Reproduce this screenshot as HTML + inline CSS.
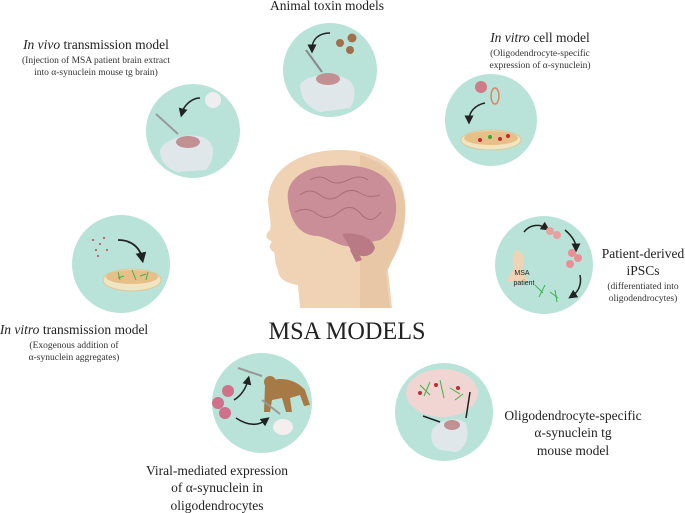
<!DOCTYPE html>
<html><head><style>
body{margin:0;background:#fff}
svg{display:block}
text{font-family:"Liberation Serif",serif;fill:#222}
.t{font-size:13.5px}
.s{font-size:9.5px;fill:#333}
.c{fill:#b9e3d8}
</style></head><body>
<svg width="685" height="513" viewBox="0 0 685 513" xmlns="http://www.w3.org/2000/svg">
<defs>
<marker id="ah" markerWidth="6" markerHeight="6" refX="3" refY="3" orient="auto"><path d="M0,0 L6,3 L0,6 z" fill="#222"/></marker>
</defs>
<!-- circles -->
<circle class="c" cx="330" cy="70" r="47"/>
<circle class="c" cx="193" cy="131" r="47"/>
<circle class="c" cx="491" cy="120" r="46"/>
<circle class="c" cx="121" cy="264" r="49"/>
<circle class="c" cx="544" cy="265" r="49"/>
<circle class="c" cx="262" cy="403" r="50"/>
<circle class="c" cx="444" cy="412" r="49"/>

<!-- head -->
<path d="M300,308 L298,285 C285,283 278,278 278,270 C274,262 276,258 274,252 C270,250 268,246 272,242 C266,238 264,236 270,230 C272,222 268,210 268,200 C270,165 305,150 340,150 C385,150 408,175 405,215 C403,245 392,258 388,270 L392,308 Z" fill="#f0d3b4"/>
<path d="M360,155 C395,165 408,190 405,220 C403,248 390,262 386,272 L390,308 L360,308 Z" fill="#e3bf9e" opacity="0.6"/>
<!-- brain -->
<path d="M288,200 C285,180 305,166 330,166 C355,163 385,168 393,190 C400,210 395,232 380,240 L352,246 C340,248 330,238 318,236 C300,236 290,222 288,200 Z" fill="#c98e98"/>
<path d="M342,234 C355,232 372,236 375,248 C372,258 360,258 352,252 Z" fill="#b97a86"/>
<path d="M350,250 L356,262 L362,260 L356,248 Z" fill="#b97a86"/>
<path d="M300,195 q10,-8 20,0 t20,0 t20,-2 t20,2 M295,212 q12,-6 22,2 t22,-2 t22,2 t20,-2 M310,180 q10,-6 18,0 t20,0 t20,0" stroke="#a8707c" stroke-width="1" fill="none"/>

<!-- toxin circle content -->
<circle cx="340" cy="43" r="4" fill="#a0704e"/><circle cx="352" cy="38" r="4.5" fill="#a0704e"/><circle cx="350" cy="50" r="4" fill="#a0704e"/>
<path d="M330,33 C318,33 312,40 312,49" stroke="#222" stroke-width="1.5" fill="none" marker-end="url(#ah)"/>
<line x1="306" y1="50" x2="322" y2="72" stroke="#888" stroke-width="2"/>
<path d="M300,85 C305,75 330,72 345,78 C355,82 358,95 350,108 L320,112 C308,108 300,98 300,85 Z" fill="#dfe7ea"/>
<ellipse cx="328" cy="79" rx="12" ry="6" fill="#c09092"/>

<!-- in vivo content -->
<path d="M200,98 C192,98 184,105 182,113" stroke="#222" stroke-width="1.5" fill="none" marker-end="url(#ah)"/>
<circle cx="213" cy="100" r="8" fill="#eceef0"/>
<line x1="156" y1="114" x2="178" y2="134" stroke="#999" stroke-width="2"/>
<path d="M160,150 C165,138 190,132 205,138 C215,143 216,158 206,170 L178,172 C165,168 160,160 160,150 Z" fill="#dfe7ea"/>
<ellipse cx="188" cy="142" rx="12" ry="6" fill="#c09092"/>

<!-- in vitro cell content -->
<circle cx="481" cy="87" r="6" fill="#d07a8a"/>
<ellipse cx="495" cy="96" rx="4" ry="8" fill="none" stroke="#e08060" stroke-width="1.5"/>
<path d="M485,103 C475,105 469,112 469,120" stroke="#222" stroke-width="1.5" fill="none" marker-end="url(#ah)"/>
<ellipse cx="491" cy="140" rx="30" ry="10" fill="#f1e4c1" stroke="#d9c79a"/>
<ellipse cx="491" cy="138" rx="27" ry="7" fill="#e7c089"/>
<circle cx="480" cy="140" r="2" fill="#c02a35"/><circle cx="490" cy="137" r="2" fill="#3a3"/><circle cx="500" cy="139" r="2" fill="#c02a35"/><circle cx="508" cy="136" r="2" fill="#c02a35"/>

<!-- in vitro transmission -->
<g fill="#c5454f"><circle cx="93" cy="240" r="1"/><circle cx="100" cy="244" r="1"/><circle cx="96" cy="250" r="1"/><circle cx="104" cy="238" r="1"/><circle cx="107" cy="250" r="1"/><circle cx="98" cy="256" r="1"/></g>
<path d="M118,240 C132,240 140,248 142,258" stroke="#222" stroke-width="1.8" fill="none" marker-end="url(#ah)"/>
<ellipse cx="132" cy="280" rx="29" ry="11" fill="#f1e4c1" stroke="#d9c79a"/>
<ellipse cx="132" cy="277" rx="26" ry="7" fill="#e7c089"/>
<g stroke="#3ab54a" stroke-width="1"><path d="M118,272 l2,8 M124,276 l-6,2 M132,270 l4,10 M140,276 l6,-2 M148,272 l-2,8"/></g>

<!-- iPSC -->
<path d="M516,250 C512,255 512,262 514,268 L506,282 L528,282 L522,268 C526,260 524,252 516,250 Z" fill="#f0d3b4"/>
<text x="522" y="275" font-family="Liberation Sans" font-size="7" text-anchor="middle" fill="#555" style="font-family:'Liberation Sans',sans-serif">MSA</text>
<text x="524" y="285" font-size="7" text-anchor="middle" fill="#555" style="font-family:'Liberation Sans',sans-serif">patient</text>
<path d="M524,232 C530,224 540,224 546,228" stroke="#222" stroke-width="1.5" fill="none" marker-end="url(#ah)"/>
<circle cx="550" cy="231" r="4" fill="#e8a0a0"/><circle cx="557" cy="235" r="4" fill="#e8a0a0"/>
<path d="M565,230 C572,236 576,242 576,248" stroke="#222" stroke-width="1.5" fill="none" marker-end="url(#ah)"/>
<circle cx="572" cy="253" r="4" fill="#ec8e95"/><circle cx="578" cy="258" r="4" fill="#ec8e95"/><circle cx="570" cy="264" r="4" fill="#ec8e95"/>
<path d="M580,275 C582,285 578,292 572,296" stroke="#222" stroke-width="1.5" fill="none" marker-end="url(#ah)"/>
<g stroke="#3ab54a" stroke-width="1"><path d="M535,285 l8,8 M545,285 l-6,12 M550,292 l8,6 M555,290 l2,12"/></g>

<!-- viral -->
<circle cx="228" cy="391" r="6" fill="#d0708a"/><circle cx="218" cy="403" r="6" fill="#d0708a"/><circle cx="225" cy="413" r="6" fill="#d0708a"/>
<path d="M234,400 C242,395 246,388 248,380" stroke="#222" stroke-width="1.5" fill="none" marker-end="url(#ah)"/>
<path d="M236,418 C248,426 258,426 266,420" stroke="#222" stroke-width="1.5" fill="none" marker-end="url(#ah)"/>
<path d="M265,385 C275,375 295,378 305,390 L310,405 L304,406 L300,395 L290,398 L292,412 L286,412 L282,398 L272,400 L270,412 L264,412 Z" fill="#a77a45"/>
<circle cx="270" cy="382" r="6" fill="#a77a45"/>
<ellipse cx="283" cy="427" rx="10" ry="8" fill="#f4eeee"/>
<line x1="238" y1="368" x2="262" y2="376" stroke="#999" stroke-width="2"/>
<line x1="262" y1="400" x2="280" y2="414" stroke="#999" stroke-width="2"/>

<!-- oligo -->
<ellipse cx="442" cy="393" rx="36" ry="24" fill="#f0d5d2"/>
<g stroke="#3ab54a" stroke-width="1"><path d="M420,385 l10,10 M430,382 l-6,14 M440,380 l4,18 M450,388 l10,6 M455,400 l8,-6"/></g>
<circle cx="420" cy="393" r="2" fill="#c02a35"/><circle cx="436" cy="385" r="2" fill="#c02a35"/><circle cx="458" cy="388" r="2" fill="#c02a35"/>
<line x1="423" y1="416" x2="440" y2="422" stroke="#222" stroke-width="1.5"/>
<line x1="470" y1="392" x2="466" y2="418" stroke="#222" stroke-width="1.5"/>
<path d="M432,430 C440,418 460,416 466,424 C470,436 466,448 456,452 L440,450 C432,446 430,438 432,430 Z" fill="#dfe7ea"/>
<ellipse cx="452" cy="425" rx="8" ry="5" fill="#c09092"/>

<!-- labels -->
<text class="t" x="327" y="10" text-anchor="middle">Animal toxin models</text>
<text class="t" x="96" y="49" text-anchor="middle"><tspan font-style="italic">In vivo</tspan> transmission model</text>
<text class="s" x="96" y="63" text-anchor="middle">(Injection of MSA patient brain extract</text>
<text class="s" x="96" y="75" text-anchor="middle">into α-synuclein mouse tg brain)</text>
<text class="t" x="540" y="42" text-anchor="middle"><tspan font-style="italic">In vitro</tspan> cell model</text>
<text class="s" x="540" y="56" text-anchor="middle">(Oligodendrocyte-specific</text>
<text class="s" x="540" y="68" text-anchor="middle">expression of α-synuclein)</text>
<text class="t" x="643" y="258" text-anchor="middle">Patient-derived</text>
<text class="t" x="643" y="275" text-anchor="middle">iPSCs</text>
<text class="s" x="643" y="289" text-anchor="middle">(differentiated into</text>
<text class="s" x="643" y="301" text-anchor="middle">oligodendrocytes)</text>
<text class="t" x="74" y="334" text-anchor="middle"><tspan font-style="italic">In vitro</tspan> transmission model</text>
<text class="s" x="74" y="348" text-anchor="middle">(Exogenous addition of</text>
<text class="s" x="74" y="360" text-anchor="middle">α-synuclein aggregates)</text>
<text x="347" y="339" text-anchor="middle" font-size="25" textLength="157" lengthAdjust="spacingAndGlyphs">MSA MODELS</text>
<text class="t" x="217" y="475" text-anchor="middle">Viral-mediated expression</text>
<text class="t" x="217" y="492" text-anchor="middle">of α-synuclein in</text>
<text class="t" x="217" y="510" text-anchor="middle">oligodendrocytes</text>
<text class="t" x="573" y="420" text-anchor="middle">Oligodendrocyte-specific</text>
<text class="t" x="573" y="437" text-anchor="middle">α-synuclein tg</text>
<text class="t" x="573" y="455" text-anchor="middle">mouse model</text>
</svg>
</body></html>
